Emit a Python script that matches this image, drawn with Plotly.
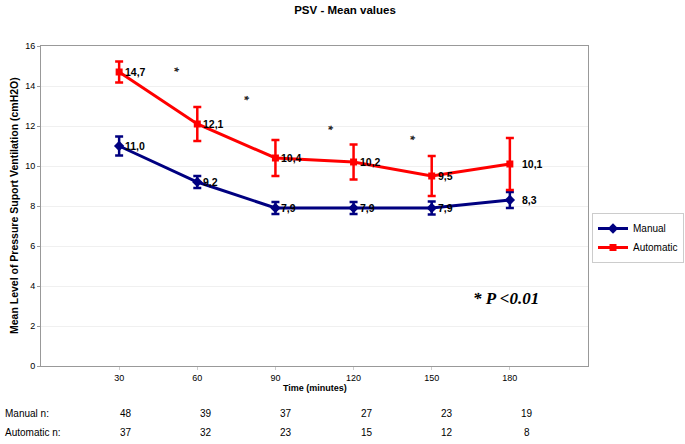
import plotly.graph_objects as go

time = [30, 60, 90, 120, 150, 180]
manual = [11.0, 9.2, 7.9, 7.9, 7.9, 8.3]
manual_err = [0.48, 0.3, 0.3, 0.3, 0.33, 0.4]
automatic = [14.7, 12.1, 10.4, 10.2, 9.5, 10.1]
automatic_err = [0.52, 0.85, 0.9, 0.88, 1.0, 1.3]
manual_n = [48, 39, 37, 27, 23, 19]
automatic_n = [37, 32, 23, 15, 12, 8]
star_x = [51, 78, 110, 141.5]
star_y = [14.8, 13.4, 11.9, 11.4]

NAVY = "#000080"
RED = "#FF0000"
FONT = "Liberation Sans Narrow, Liberation Sans, Arial, sans-serif"
W, H = 685, 444
L, R, T, B = 41, 97, 46, 78

fig = go.Figure()
fig.add_trace(go.Scatter(
    x=time, y=manual, name="Manual", mode="lines+markers",
    line=dict(color=NAVY, width=3),
    marker=dict(symbol="diamond", size=8, color=NAVY),
    error_y=dict(type="data", array=manual_err, color=NAVY, thickness=2.5, width=4),
))
fig.add_trace(go.Scatter(
    x=time, y=automatic, name="Automatic", mode="lines+markers",
    line=dict(color=RED, width=3),
    marker=dict(symbol="square", size=7, color=RED),
    error_y=dict(type="data", array=automatic_err, color=RED, thickness=2.5, width=4),
))

ann = []
for series in (manual, automatic):
    for i, (t, v) in enumerate(zip(time, series)):
        ann.append(dict(x=t, y=v, xref="x", yref="y",
                        text="<b>" + f"{v:.1f}".replace(".", ",") + "</b>",
                        showarrow=False, xanchor="left", xshift=4 if i < 5 else 10,
                        font=dict(family=FONT, size=10.5, color="#000000")))
for sx, sy in zip(star_x, star_y):
    ann.append(dict(x=sx, y=sy, xref="x", yref="y", text="<b>*</b>", showarrow=False,
                    textangle=90, font=dict(family=FONT, size=12, color="#222222")))

ann.append(dict(x=165, y=3.4, xref="x", yref="y", text="<b><i>* P &lt;0.01</i></b>",
                showarrow=False, xanchor="left",
                font=dict(family="Liberation Serif, Times New Roman, serif", size=17, color="#000000")))

# axis titles
ann.append(dict(x=14 / W, y=1 - 206 / H, xref="paper", yref="paper",
                text="<b>Mean Level of Pressure Suport Ventilation (cmH2O)</b>",
                textangle=-90, showarrow=False, xanchor="center", yanchor="middle",
                font=dict(family=FONT, size=10.5, color="#000000")))
ann.append(dict(x=315 / W, y=1 - 388 / H, xref="paper", yref="paper",
                text="<b>Time (minutes)</b>", showarrow=False,
                xanchor="center", yanchor="middle",
                font=dict(family=FONT, size=9, color="#000000")))

# table of n
for label, ns, ypx in [("Manual n:", manual_n, 413), ("Automatic n:", automatic_n, 432)]:
    ann.append(dict(x=3 / W, y=1 - ypx / H, xref="paper", yref="paper", text=label,
                    showarrow=False, xanchor="left", yanchor="middle",
                    font=dict(family=FONT, size=10, color="#000000")))
    for i, (t, n) in enumerate(zip(time, ns)):
        ann.append(dict(x=t, y=1 - ypx / H, xref="x", yref="paper", text=str(n),
                        showarrow=False, xanchor="center", yanchor="middle",
                        xshift=7 + 2 * i,
                        font=dict(family=FONT, size=10, color="#000000")))

# paper-referenced positions given in picture pixels; convert to plot-area fractions
for a in ann:
    if a.get("xref") == "paper":
        px = a["x"] * W
        a["x"] = (px - L) / (W - L - R)
    if a.get("yref") == "paper":
        py = (1 - a["y"]) * H
        a["y"] = 1 - (py - T) / (H - T - B)

fig.update_layout(
    width=W, height=H,
    margin=dict(l=L, r=R, t=T, b=B),
    paper_bgcolor="white", plot_bgcolor="white",
    title=dict(text="<b>PSV - Mean values</b>", x=345 / W, xanchor="center",
               y=1 - 10 / H, yanchor="middle", xref="container", yref="container",
               font=dict(family=FONT, size=11.5, color="#000000")),
    showlegend=True,
    legend=dict(x=592 / W, y=1 - 213 / H, xref="container", yref="container",
                xanchor="left", yanchor="top",
                bordercolor="#cccccc", borderwidth=1, bgcolor="white",
                font=dict(family=FONT, size=10, color="#000000"),
                tracegroupgap=0, itemwidth=30),
    annotations=ann,
    xaxis=dict(range=[0, 210], tickvals=time, ticks="outside", ticklen=3,
               tickcolor="#cccccc", showgrid=False, zeroline=False, automargin=False,
               showline=True, linecolor="#999999", linewidth=1, mirror=True,
               tickfont=dict(family=FONT, size=9, color="#000000")),
    yaxis=dict(range=[0, 16], dtick=2, ticks="outside", ticklen=3, automargin=False,
               tickcolor="#999999", showgrid=True, gridcolor="#f0f0f0",
               zeroline=False, showline=True, linecolor="#999999", linewidth=1,
               mirror=True,
               tickfont=dict(family=FONT, size=9, color="#000000")),
)

fig.write_html("out.html", config={"displayModeBar": False})

# remove the default body margin so the figure sits at the page's top-left corner
with open("out.html", "r", encoding="utf-8") as f:
    html = f.read()
html = html.replace("<body>", '<body style="margin:0;padding:0;overflow:hidden">', 1)
with open("out.html", "w", encoding="utf-8") as f:
    f.write(html)
